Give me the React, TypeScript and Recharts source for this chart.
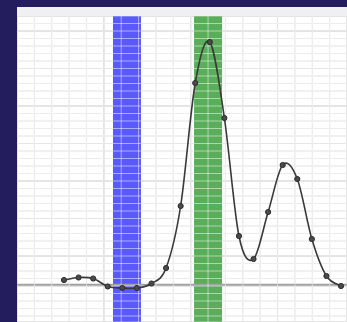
import React from "react";
import {
  ComposedChart,
  Line,
  XAxis,
  YAxis,
  CartesianGrid,
  ReferenceArea,
  ReferenceLine,
} from "recharts";

// sample index along the trace and the measured signal at each sample
const samples = [0, 1, 2, 3, 4, 5, 6, 7, 8, 9, 10, 11, 12, 13, 14, 15, 16, 17, 18, 19];
const signal = [5, 7.5, 6.5, -1.5, -3, -3, 1.5, 17, 79, 202, 243, 167, 49, 26, 73, 120, 106, 46, 9, -1];

// highlighted windows (in sample units)
const blueBand = [3.36, 5.28];
const greenBand = [8.92, 10.84];

// graph paper divisions
const gridCols = Array.from({ length: 27 }, (_, i) => i);
const gridRows = Array.from({ length: 40 }, (_, i) => i - 1);
const majorCols = [0, 5, 10, 15, 20, 25];
const majorRows = [0, 5, 10, 15, 20, 25, 30, 35];

const data = samples.map((s, i) => ({ sample: s, value: signal[i] }));

const W = 330;
const H = 306;
const M = { top: 0, right: 0, bottom: 0, left: 0 };

// catmull-rom style smoothing, the trace is rounder than "monotone"
const smoothCurve = (ctx: any) => {
  let pts: [number, number][] = [];
  return {
    areaStart() {},
    areaEnd() {},
    lineStart() {
      pts = [];
    },
    point(x: number, y: number) {
      pts.push([+x, +y]);
    },
    lineEnd() {
      if (!pts.length) return;
      ctx.moveTo(pts[0][0], pts[0][1]);
      for (let i = 0; i < pts.length - 1; i++) {
        const p0 = pts[Math.max(0, i - 1)];
        const p1 = pts[i];
        const p2 = pts[i + 1];
        const p3 = pts[Math.min(pts.length - 1, i + 2)];
        ctx.bezierCurveTo(
          p1[0] + (p2[0] - p0[0]) / 6,
          p1[1] + (p2[1] - p0[1]) / 6,
          p2[0] - (p3[0] - p1[0]) / 6,
          p2[1] - (p3[1] - p1[1]) / 6,
          p2[0],
          p2[1]
        );
      }
    },
  };
};

const App: React.FC = () => {
  const axes = [
    <XAxis key="s" xAxisId="s" type="number" dataKey="sample" domain={[-3.224, 19.41]} allowDataOverflow hide />,
    <YAxis key="v" yAxisId="v" type="number" domain={[-37, 269]} allowDataOverflow hide />,
    <XAxis key="gx" xAxisId="gx" type="number" domain={[-1.083, 26.42]} ticks={gridCols} interval={0} allowDataOverflow hide />,
    <YAxis key="gy" yAxisId="gy" type="number" reversed domain={[-2, 38.8]} ticks={gridRows} interval={0} allowDataOverflow hide />,
    <XAxis key="mx" xAxisId="mx" type="number" domain={[-1.083, 26.42]} ticks={majorCols} interval={0} allowDataOverflow hide />,
    <YAxis key="my" yAxisId="my" type="number" reversed domain={[-2, 38.8]} ticks={majorRows} interval={0} allowDataOverflow hide />,
  ];

  return (
    <div
      style={{
        position: "fixed",
        left: 0,
        top: 0,
        width: 347,
        height: 322,
        background: "#241d5d",
        overflow: "hidden",
      }}
    >
      <div style={{ position: "absolute", left: 17, top: 7, width: 330, height: 9, background: "#f0f0f2" }} />
      <div style={{ position: "absolute", left: 17, top: 16, width: W, height: H, background: "#ffffff" }}>
        <ComposedChart width={W} height={H} data={data} margin={M}>
          {axes}
          <CartesianGrid xAxisId="gx" yAxisId="gy" stroke="#d8d8d8" strokeWidth={1} />
          <CartesianGrid xAxisId="mx" yAxisId="my" stroke="#cccccc" strokeWidth={1} />
          <ReferenceLine xAxisId="s" yAxisId="v" y={0} stroke="#a0a0a0" strokeWidth={2.5} />
          <ReferenceArea
            xAxisId="s"
            yAxisId="v"
            x1={blueBand[0]}
            x2={blueBand[1]}
            fill="#5a5afc"
            fillOpacity={1}
            stroke="none"
          />
          <ReferenceArea
            xAxisId="s"
            yAxisId="v"
            x1={greenBand[0]}
            x2={greenBand[1]}
            fill="#5aae5a"
            fillOpacity={1}
            stroke="none"
          />
        </ComposedChart>
        <div style={{ position: "absolute", left: 0, top: 0 }}>
          <ComposedChart width={W} height={H} data={data} margin={M}>
            {axes}
            <CartesianGrid xAxisId="gx" yAxisId="gy" stroke="#ffffff" strokeOpacity={0.5} strokeWidth={1} />
            <Line
              xAxisId="s"
              yAxisId="v"
              type={smoothCurve as any}
              dataKey="value"
              stroke="#3a3a3a"
              strokeWidth={1.6}
              dot={{ r: 2.6, fill: "#4a4a4a", stroke: "#2e2e2e", strokeWidth: 1 }}
              isAnimationActive={false}
            />
          </ComposedChart>
        </div>
      </div>
    </div>
  );
};

export default App;
